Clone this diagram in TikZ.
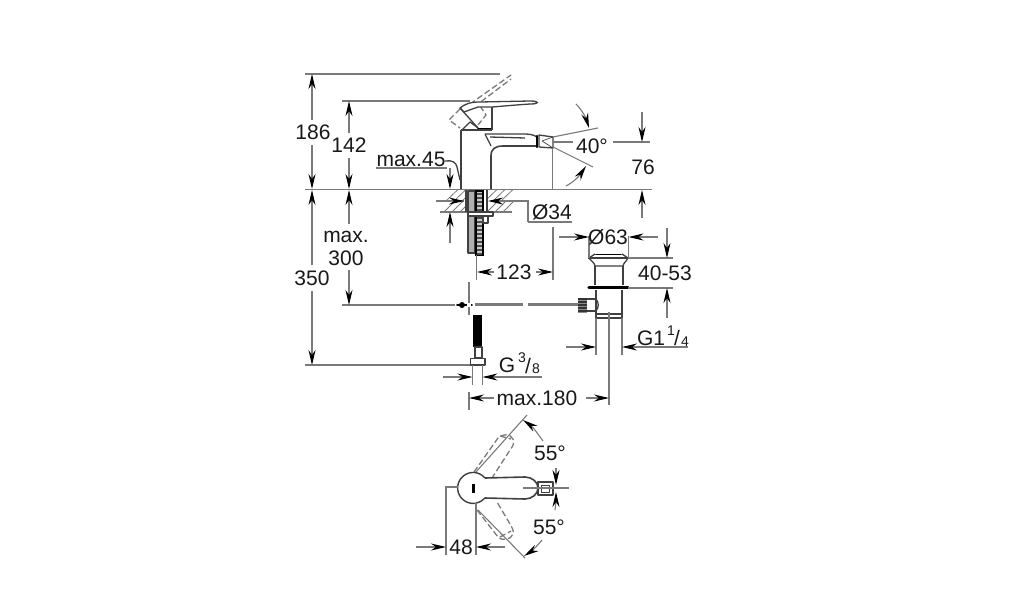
\documentclass[tikz,border=0pt]{standalone}
\usepackage{fontspec}
\setmainfont{Liberation Sans}
\usetikzlibrary{arrows.meta}
\definecolor{dimc}{gray}{0.48}
\definecolor{inkc}{gray}{0.1}
\definecolor{bodyc}{gray}{0.25}
\tikzset{
  blackhead/.tip={Stealth[length=15pt,width=7pt,black]},
  dimline/.style={draw=dimc,line width=1.1pt},
  dimarrow/.style={dimline,-blackhead},
  label/.style={inner sep=0pt,text=inkc,font=\fontsize{21}{21}\selectfont},
  smalllabel/.style={inner sep=0pt,text=inkc,font=\fontsize{14}{14}\selectfont},
  outline/.style={draw=bodyc,line width=1.3pt,line join=round},
  heavy/.style={draw=black,line width=2.2pt,line cap=round},
  ghost/.style={draw=dimc,line width=1.3pt,dash pattern=on 6pt off 3pt},
  hatchline/.style={draw=dimc,line width=0.8pt},
}
\begin{document}
\begin{tikzpicture}[x=1pt,y=-1pt]
\useasboundingbox (0,0) rectangle (1014,600);
\fill[white] (0,0) rectangle (1014,600);

% --- extension lines
\draw[dimline] (305,74) -- (500,74);
\draw[dimline] (342,101) -- (470,101);
\draw[dimline] (305,189.5) -- (652,189.5);
\draw[dimline] (342,305) -- (455,305);
\draw[dimline] (305,365) -- (472,365);
\draw[dimline] (376,168) -- (447,168);

% --- left dimensions
\draw[dimarrow] (312,120) -- (312,74);
\draw[dimarrow] (312,145) -- (312,189);
\draw[dimarrow] (349,133) -- (349,101);
\draw[dimarrow] (349,158) -- (349,189);
\draw[dimarrow] (450,168) -- (450,189);
\draw[dimarrow] (312,265) -- (312,190);
\draw[dimarrow] (312,291) -- (312,365);
\draw[dimarrow] (349,224) -- (349,190);
\draw[dimarrow] (349,270) -- (349,305);
\node[label] (h186) at (313,132) {186};
\node[label] (h142) at (349,145) {142};
\node[label] (m45) at (411,159) {max.45};
\node[label] (m300a) at (346,237) {max.};
\node[label] (m300b) at (346,258) {300};
\node[label] (h350) at (312,278) {350};

% --- faucet side view
\draw[ghost] (470,104) -- (511,75);
\draw[ghost] (474,107) -- (511,79);
\draw[ghost] (460,109) -- (449,120) -- (460,128);
\draw[ghost] (480,106) -- (486,115) -- (478,125);
\draw[outline,fill=white] (460,108) .. controls (465,104) and (470,102) .. (480,102)
  -- (530,101) .. controls (540,101) and (540,104) .. (530,104)
  .. controls (515,105) and (505,106) .. (492,107) -- (478,107) -- (464,112) -- cycle;
\draw[outline] (460,108) -- (478,128);
\draw[heavy,line width=1.8pt] (478,128.5) -- (492,128.5);
\draw[outline] (492,107) -- (492,130);
\draw[outline] (461,131) -- (470,122) -- (478,128);
\draw[outline] (461,130) -- (492,130);
\draw[outline,line width=1.6pt] (461,130) -- (461,189);
\draw[outline] (485,134) -- (525,134) .. controls (530,134) and (534,135) .. (537,137);
\draw[outline] (485,134) -- (491,146);
\draw[outline,line width=1.6pt] (491,189) -- (491,156) .. controls (491,149) and (495,146) .. (503,146) -- (536,146);
\draw[outline] (490,137) -- (525,138);
\draw[heavy] (537,136) -- (537,147);
\draw[outline] (539,135) -- (553,137) -- (553,148) -- (539,147) -- cycle;
\draw[outline,line width=0.7pt] (542,141) -- (553,137) (542,141) -- (553,148);
\draw[dimline] (552.5,148) -- (552.5,189);
\draw[outline] (445,161) .. controls (452,160) and (456,162) .. (457,167) -- (460,180);

% --- 40 degree spread and 76
\draw[dimline] (553,137) -- (598,128);
\draw[dimline] (553,147) -- (593,167);
\draw[dimline] (553,142) -- (573,142);
\draw[dimline] (613,142) -- (650,142);
\draw[dimline,-blackhead] (576,104) .. controls (582,110) and (586,118) .. (589,128);
\draw[dimline,-blackhead] (566,186) .. controls (574,182) and (580,175) .. (586,166);
\draw[dimarrow] (642,112) -- (642,142);
\draw[dimarrow] (642,218) -- (642,190);
\node[label] (a40) at (592,146) {40°};
\node[label] (h76) at (643,167) {76};

% --- deck section
\draw[dimline] (440,212) -- (512,212);
\draw[dimline] (436,201) -- (464,201);
\foreach \xa in {444,452,460}{\draw[hatchline] (\xa,212) -- (\xa+11,201) (\xa+2,201) -- (\xa+14,189.5);}
\foreach \xa in {487,495,503}{\draw[hatchline] (\xa,212) -- (\xa+11,201) (\xa-2,201) -- (\xa+10,189.5);}
\fill[white] (466,190) rectangle (488,212);
\draw[outline] (466,190) -- (466,212) (487,190) -- (487,212);
\draw[outline,fill=dimc!60] (468,191) rectangle (475,253);
\draw[draw=black,line width=1.2pt,fill=dimc!40] (476,191) rectangle (483,255);
\foreach \ya in {193,197,...,253}{\fill[black!70] (477,\ya) rectangle (482,\ya+1.5);}
\draw[outline,fill=white] (468,212) rectangle (493,216);
\draw[outline,fill=white] (483,216) rectangle (488,223);
\draw[dimarrow] (437,201) -- (464,201);
\draw[dimarrow] (450,243) -- (450,212);
\draw[dimline,-blackhead] (528,222) -- (528,201) -- (488,201);
\draw[dimline] (528,222) -- (572,222);
\node[label] (d34) at (552,212) {Ø34};

% --- 123
\draw[dimline] (476.5,255) -- (476.5,280);
\draw[dimline] (553,227) -- (553,280);
\draw[dimarrow] (494,272) -- (477,272);
\draw[dimarrow] (536,272) -- (553,272);
\node[label] (w123) at (514,272) {123};

% --- lever supply line
\draw[dimline,line width=1.8pt] (469,282) -- (469,315);
\draw[heavy,line width=1.6pt] (457,305) -- (472,305);
\fill[black] (462,305) circle (3pt);
\fill[white] (469,305) circle (2.2pt);
\draw[dimline,line width=2.6pt] (475,304.5) -- (523,304.5);
\draw[dimline,line width=2.6pt] (528,304.5) -- (578,304.5);
\fill[black] (473,315) rectangle (482,347);
\draw[outline,fill=white] (475,347) rectangle (482,358);
\draw[outline,fill=white,line width=1.6pt] (470.5,358.5) rectangle (485,365);
\draw[dimline] (472.5,365) -- (472.5,385);
\draw[dimline] (482.5,365) -- (482.5,385);
\draw[dimarrow] (443,377) -- (472.5,377);
\draw[dimarrow] (542,377) -- (482.5,377);
\node[label] (g38) at (507,365) {G};
\node[smalllabel] (g38n) at (522,358) {3};
\node[label] (g38s) at (528,366) {/};
\node[smalllabel] (g38d) at (536,369) {8};

% --- waste
\draw[outline] (588,258) -- (628,258);
\draw[heavy,line width=1.6pt] (596,254.5) -- (621,254.5);
\draw[outline] (595,254) -- (589,258) (622,254) -- (628,258);
\draw[outline] (589,258) .. controls (592,262) and (594,262) .. (595,266) -- (623,266) .. controls (624,262) and (626,262) .. (628,258);
\draw[outline] (595,266) -- (595,285) (623,266) -- (623,285);
\draw[heavy,line width=3.4pt] (589,287.5) -- (628,287.5);
\draw[outline] (596,290) -- (596,314) (622,290) -- (622,314);
\draw[outline,fill=white] (596,314) rectangle (622,318);
\draw[outline] (587,299) -- (596,299) (587,311) -- (596,311);
\draw[outline] (596,299) .. controls (599,303) and (599,307) .. (596,311);
\fill[black!80] (578,298) rectangle (587,313);
\foreach \ya in {300,303,...,312}{\draw[black!45,line width=0.6pt] (578,\ya) -- (587,\ya);}
\draw[dimline] (596,318) -- (596,355);
\draw[dimline] (622,318) -- (622,355);
\draw[dimline] (609,312) -- (609,405);
\draw[dimline] (589,236) -- (589,258);
\draw[dimline] (628.5,236) -- (628.5,258);
\draw[dimline] (628,258) -- (673,258);
\draw[dimline] (628,288) -- (673,288);
\draw[dimarrow] (559,237) -- (589,237);
\draw[dimarrow] (658,237) -- (628.5,237);
\draw[dimarrow] (667,228) -- (667,258);
\draw[dimarrow] (667,318) -- (667,288);
\draw[dimarrow] (566,347) -- (596,347);
\draw[dimarrow] (688,347) -- (622,347);
\node[label] (d63) at (608,237) {Ø63};
\node[label] (h4053) at (665,273) {40-53};
\node[label] (g14) at (651,338) {G1};
\node[smalllabel] (g14n) at (671,331) {1};
\node[label] (g14s) at (677,338) {/};
\node[smalllabel] (g14d) at (685,342) {4};

% --- max.180
\draw[dimline] (469,392) -- (469,410);
\draw[dimarrow] (494,398) -- (469,398);
\draw[dimarrow] (586,398) -- (609,398);
\node[label] (m180) at (537,398) {max.180};

% --- top view
\draw[dimline] (475,473) -- (527,415);
\draw[dimline] (478,510) -- (525,558);
\draw[ghost] (474,472) -- (498,438) .. controls (502,434) and (510,433) .. (513,439) .. controls (515,444) and (512,447) .. (510,450) -- (492,478);
\draw[ghost] (500,436) -- (511,439);
\draw[ghost] (477,510) -- (498,537) .. controls (504,542) and (511,539) .. (513,534) .. controls (514,530) and (512,528) .. (510,524) -- (497,502);
\draw[ghost] (500,537) -- (511,531);
\fill[white] (473,488) circle (15.5pt);
\fill[white] (484,478) rectangle (525,498);
\draw[outline,line width=1.4pt] (485,478) arc[start angle=-40,end angle=-320,radius=15.5];
\draw[outline,line width=1.6pt] (485,478) -- (525,477) .. controls (532,477) and (538,482) .. (538,488) .. controls (538,494) and (532,499) .. (525,499) -- (485,498);
\fill[black] (472,484) rectangle (475,493);
\draw[outline,fill=white] (538,482) rectangle (553,495);
\draw[outline,line width=0.7pt] (541,485) rectangle (549,492);
\draw[dimline] (523,488) -- (569,488);
\draw[dimline,line width=1.8pt] (446,487) -- (458,487);
\draw[dimline] (446,486) -- (446,555);
\draw[dimline] (476,503) -- (476,555);
\draw[dimarrow] (416,547) -- (446,547);
\draw[dimarrow] (505,547) -- (476,547);
\node[label] (w48) at (461,547) {48};
\draw[dimline,-blackhead] (543,441) .. controls (538,434) and (533,427) .. (523,420);
\draw[dimline,-blackhead] (556,468) -- (556,485);
\draw[dimline,-blackhead] (555,510) .. controls (556,503) and (556,498) .. (556,492);
\draw[dimline,-blackhead] (542,540) .. controls (537,546) and (532,551) .. (524,556);
\node[label] (a55a) at (550,453) {55°};
\node[label] (a55b) at (549,527) {55°};
\end{tikzpicture}
\end{document}
